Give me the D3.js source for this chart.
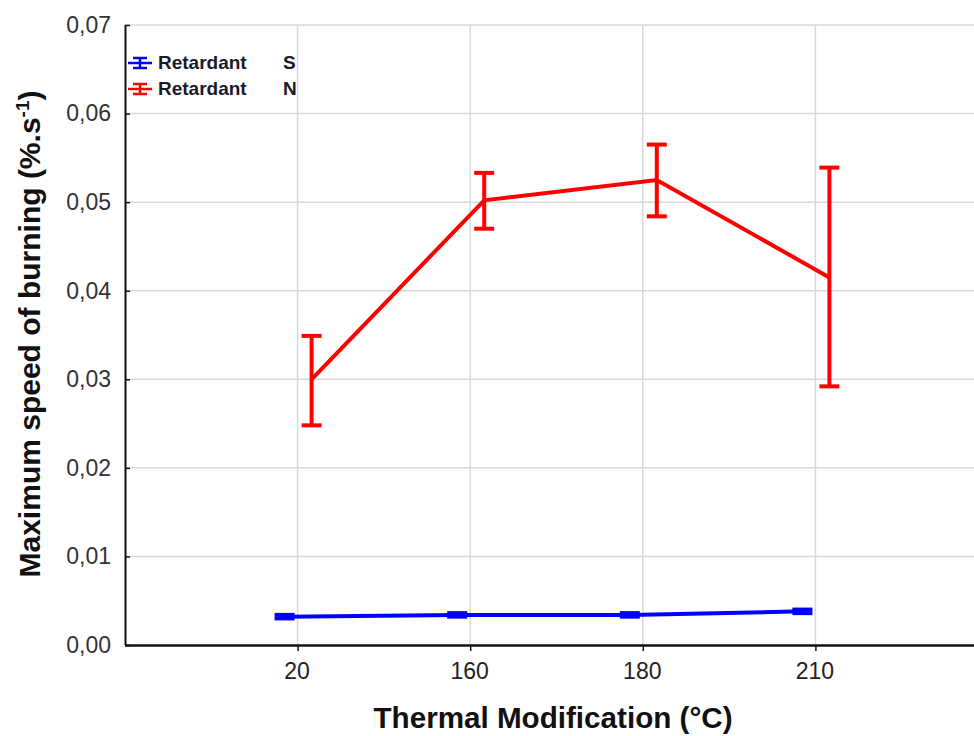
<!DOCTYPE html>
<html><head><meta charset="utf-8">
<script src="https://cdn.jsdelivr.net/npm/d3@7"></script>
<style>body{margin:0;background:#fff}svg{display:block}</style>
</head><body>
<script>
const categories = ["20","160","180","210"];
const seriesNames = ["S","N"];
const meanS = [0.0032,0.0034,0.0034,0.0038];
const lowS  = [0.0030,0.0032,0.0032,0.0036];
const highS = [0.0034,0.0036,0.0036,0.0040];
const meanN = [0.0300,0.0502,0.0525,0.0415];
const lowN  = [0.0248,0.0470,0.0484,0.0292];
const highN = [0.0349,0.0533,0.0565,0.0539];
const yTicks = [0,0.01,0.02,0.03,0.04,0.05,0.06,0.07];

(function(){
const W=974,H=736;
const svg=d3.select("body").append("svg").attr("width",W).attr("height",H);
const font='"Liberation Sans",Arial,sans-serif';
const pL=125,pB=645,pT=25,pR=988;
const x=d3.scaleLinear().domain([0,5]).range([pL,pR]);
const y=d3.scaleLinear().domain([0,0.07]).range([pB,pT]);
const xi=i=>x(i+1);

// grid
svg.append("g").selectAll("line").data(yTicks.slice(1)).join("line")
 .attr("x1",pL).attr("x2",W).attr("y1",d=>y(d)).attr("y2",d=>y(d))
 .attr("stroke","#d9d9d9").attr("stroke-width",1.5);
svg.append("g").selectAll("line").data(categories).join("line")
 .attr("x1",(d,i)=>xi(i)).attr("x2",(d,i)=>xi(i)).attr("y1",pT).attr("y2",pB)
 .attr("stroke","#d9d9d9").attr("stroke-width",1.5);

// axes
const ya=svg.append("g").attr("transform",`translate(${pL},0)`)
 .call(d3.axisLeft(y).tickValues(yTicks).tickSize(-5).tickPadding(14).tickFormat(d=>d3.format(".2f")(d).replace(".",",")));
ya.select(".domain").attr("stroke","#111").attr("stroke-width",2).attr("d",`M0.5,${pT}V${pB}`);
ya.selectAll(".tick line").attr("stroke","#111").attr("stroke-width",1.5);
ya.selectAll("text").attr("font-family",font).attr("font-size",23).attr("fill","#333");

const xa=svg.append("g").attr("transform",`translate(0,${pB})`)
 .call(d3.axisBottom(x).tickValues([1,2,3,4]).tickSize(6).tickPadding(12).tickFormat(d=>categories[d-1]));
xa.select(".domain").attr("stroke","#111").attr("stroke-width",2.5).attr("d",`M${pL},0.5H${W}`);
xa.selectAll(".tick line").attr("stroke","#111").attr("stroke-width",1.5);
xa.selectAll("text").attr("font-family",font).attr("font-size",23).attr("fill","#222").attr("dx",-1);

// series
const series=[
 {name:"S",color:"#0000ff",mean:meanS,low:lowS,high:highS,off:-13},
 {name:"N",color:"#ff0000",mean:meanN,low:lowN,high:highN,off:14}
];
const line=d3.line().x(d=>d[0]).y(d=>d[1]);
series.forEach(s=>{
 const pts=s.mean.map((v,i)=>[xi(i)+s.off,y(v)]);
 const g=svg.append("g");
 g.append("path").attr("d",line(pts)).attr("fill","none").attr("stroke",s.color).attr("stroke-width",4);
 s.mean.forEach((v,i)=>{
  const cx=xi(i)+s.off;
  g.append("line").attr("x1",cx).attr("x2",cx).attr("y1",y(s.low[i])).attr("y2",y(s.high[i])).attr("stroke",s.color).attr("stroke-width",4);
  [s.low[i],s.high[i]].forEach(e=>g.append("line").attr("x1",cx-10).attr("x2",cx+10).attr("y1",y(e)).attr("y2",y(e)).attr("stroke",s.color).attr("stroke-width",4));
 });
});

// legend
series.forEach((s,k)=>{
 const ly=63+k*26, lx=140;
 const g=svg.append("g");
 g.append("line").attr("x1",lx-12).attr("x2",lx+12).attr("y1",ly).attr("y2",ly).attr("stroke",s.color).attr("stroke-width",2.5);
 g.append("line").attr("x1",lx-7).attr("x2",lx+7).attr("y1",ly-5).attr("y2",ly-5).attr("stroke",s.color).attr("stroke-width",2.5);
 g.append("line").attr("x1",lx-7).attr("x2",lx+7).attr("y1",ly+5).attr("y2",ly+5).attr("stroke",s.color).attr("stroke-width",2.5);
 g.append("line").attr("x1",lx).attr("x2",lx).attr("y1",ly-5).attr("y2",ly+5).attr("stroke",s.color).attr("stroke-width",2.5);
 g.append("text").attr("x",158).attr("y",ly+6).attr("font-family",font).attr("font-size",19).attr("font-weight","bold").attr("fill","#1a1a2a").text("Retardant");
 g.append("text").attr("x",283).attr("y",ly+6).attr("font-family",font).attr("font-size",19).attr("font-weight","bold").attr("fill","#1a1a2a").text(s.name);
});

// titles
svg.append("text").attr("x",553).attr("y",728).attr("text-anchor","middle")
 .attr("font-family",font).attr("font-size",29).attr("font-weight","bold").attr("fill","#111")
 .attr("textLength",359).attr("lengthAdjust","spacingAndGlyphs")
 .text("Thermal Modification (°C)");
const yt=svg.append("text").attr("transform","translate(40,334) rotate(-90)").attr("text-anchor","middle")
 .attr("font-family",font).attr("font-size",30).attr("font-weight","bold").attr("fill","#111");
yt.append("tspan").text("Maximum speed of burning (%.s");
yt.append("tspan").attr("dy",-11).attr("font-size",19).text("-1");
yt.append("tspan").attr("dy",11).text(")");
})();
</script>
</body></html>
